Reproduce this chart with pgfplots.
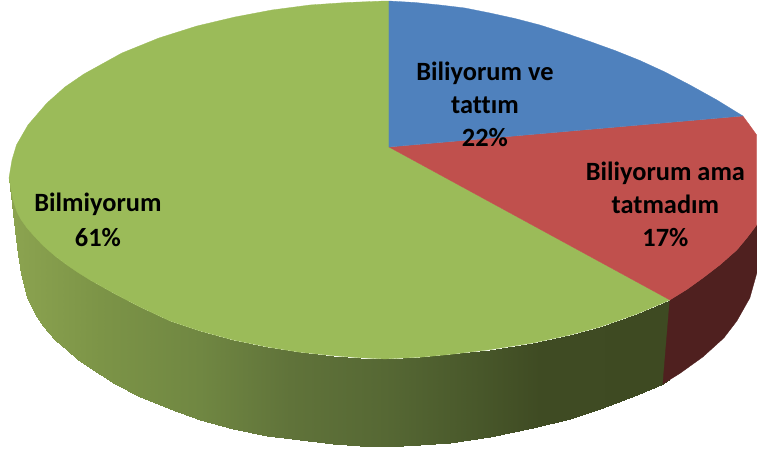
\documentclass[border=0pt]{standalone}
\usepackage{pgfplots}
\pgfplotsset{compat=1.18}
\usepackage{fontspec}
\setmainfont[Ligatures=NoCommon]{Carlito}
\definecolor{pblue}{HTML}{4F81BD}
\definecolor{pred}{HTML}{C0504D}
\definecolor{pgreen}{HTML}{9BBB59}
\definecolor{pdred}{HTML}{4F201F}
\begin{document}
\begin{tikzpicture}
\begin{axis}[
  scale only axis, width=757pt, height=453pt,
  xmin=0, xmax=757, ymin=0, ymax=453, y dir=reverse,
  axis lines=none, clip=false, ticks=none,
  colormap={gs}{rgb255(9pt)=(140,164,80); rgb255(100pt)=(124,148,71); rgb255(200pt)=(112,135,66); rgb255(290pt)=(96,115,58); rgb255(385pt)=(86,104,52); rgb255(480pt)=(72,87,42); rgb255(540pt)=(63,75,35); rgb255(670pt)=(62,74,34)},
  point meta min=9, point meta max=670]
% green side: strips
\addplot[patch, patch type=rectangle, shader=interp, point meta=explicit] coordinates {
 (9,178)[9] (13,200)[13] (13,213)[13] (9,178)[9]
 (13,200)[13] (17,212)[17] (17,247)[17] (13,213)[13]
 (17,212)[17] (21,219.5)[21] (21,274)[21] (17,247)[17]
 (21,219.5)[21] (27,228)[27] (27,298)[27] (21,274)[21]
 (27,228)[27] (35,237)[35] (35,314)[35] (27,298)[27]
 (35,237)[35] (43,245.5)[43] (43,326)[43] (35,314)[35]
 (43,245.5)[43] (55,256)[55] (55,340)[55] (43,326)[43]
 (55,256)[55] (67,265)[67] (67,350)[67] (55,340)[55]
 (67,265)[67] (78,272.5)[78] (78,360)[78] (67,350)[67]
 (78,272.5)[78] (90,280)[90] (90,368)[90] (78,360)[78]
 (90,280)[90] (115,294)[115] (115,384)[115] (90,368)[90]
 (115,294)[115] (140,307)[140] (140,397)[140] (115,384)[115]
 (140,307)[140] (170,321)[170] (170,409.5)[170] (140,397)[140]
 (170,321)[170] (200,331)[200] (200,420)[200] (170,409.5)[170]
 (200,331)[200] (233,340)[233] (233,429)[233] (200,420)[200]
 (233,340)[233] (267,347)[267] (267,436)[267] (233,429)[233]
 (267,347)[267] (300,352.3)[300] (300,440.5)[300] (267,436)[267]
 (300,352.3)[300] (333,355.7)[333] (333,444)[333] (300,440.5)[300]
 (333,355.7)[333] (360,357.8)[360] (360,446)[360] (333,444)[333]
 (360,357.8)[360] (385,359)[385] (385,447)[385] (360,446)[360]
 (385,359)[385] (420,357.3)[420] (420,445.5)[420] (385,447)[385]
 (420,357.3)[420] (450,354.5)[450] (450,443)[450] (420,445.5)[420]
 (450,354.5)[450] (490,349.7)[490] (490,437)[490] (450,443)[450]
 (490,349.7)[490] (533,343)[533] (533,428.5)[533] (490,437)[490]
 (533,343)[533] (570,335)[570] (570,419)[570] (533,428.5)[533]
 (570,335)[570] (600,327)[600] (600,409)[600] (570,419)[570]
 (600,327)[600] (637,314)[637] (637,395)[637] (600,409)[600]
 (637,314)[637] (663,303)[663] (663,384)[663] (637,395)[637]
 (663,303)[663] (670,300)[670] (670,379)[670] (663,384)[663]
};
% dark red side
\addplot[draw=pdred, line width=0.3pt, fill=pdred] coordinates {
 (670,300)(687,289.5)(703,278)(720,265)(737,250)(747,238)(757,225)(757,273)(750,298)(737,321)(724,338)(703,357)(680,373.5)(663,384)(670,300)};
% green top
\addplot[draw=pgreen, line width=0.3pt, fill=pgreen] coordinates {
 (389,1)(385,1)(347,2.5)(310,5)(272,10)(235,17)(197,26)(159,38)(122,53)(84,74)(65,87)(47,103)(28,125)(16.5,145)(12,160)(9,178)
 (13,200)(17,212)(21,219.5)(27,228)(35,237)(43,245.5)(55,256)(67,265)(78,272.5)(90,280)(115,294)(140,307)(170,321)(200,331)(233,340)(267,347)(300,352.3)(333,355.7)(360,357.8)(385,359)(420,357.3)(450,354.5)(490,349.7)(533,343)(570,335)(600,327)(637,314)(663,303)(670,300)
 (389,147)(389,1)};
% red top
\addplot[draw=pred, line width=0.3pt, fill=pred] coordinates {
 (389,147)(743,116)(750,125.5)(756.8,135)(756.8,225)(747,238)(737,250)(720,265)(703,278)(687,289.5)(670,300)(389,147)};
% blue top
\addplot[draw=pblue, line width=0.3pt, fill=pblue] coordinates {
 (389,1)(415,2.5)(440,5)(465,8)(490,13)(515,18.5)(540,25)(565,33)(590,41.5)(615,50.5)(640,60.5)(665,72)(690,85)(717,100)(743,116)(389,147)(389,1)};
\node[align=center,font=\fontsize{26.4}{33}\selectfont\bfseries] at (axis cs:485,104) {Biliyorum ve\\tattım\\22\%};
\node[align=center,font=\fontsize{26.4}{33}\selectfont\bfseries] at (axis cs:665.5,204) {Biliyorum ama\\tatmadım\\17\%};
\node[align=center,font=\fontsize{26.4}{35}\selectfont\bfseries] at (axis cs:98,220) {Bilmiyorum\\61\%};
\end{axis}
\path[use as bounding box] (0,0) rectangle (757pt,453pt);
\end{tikzpicture}
\end{document}
